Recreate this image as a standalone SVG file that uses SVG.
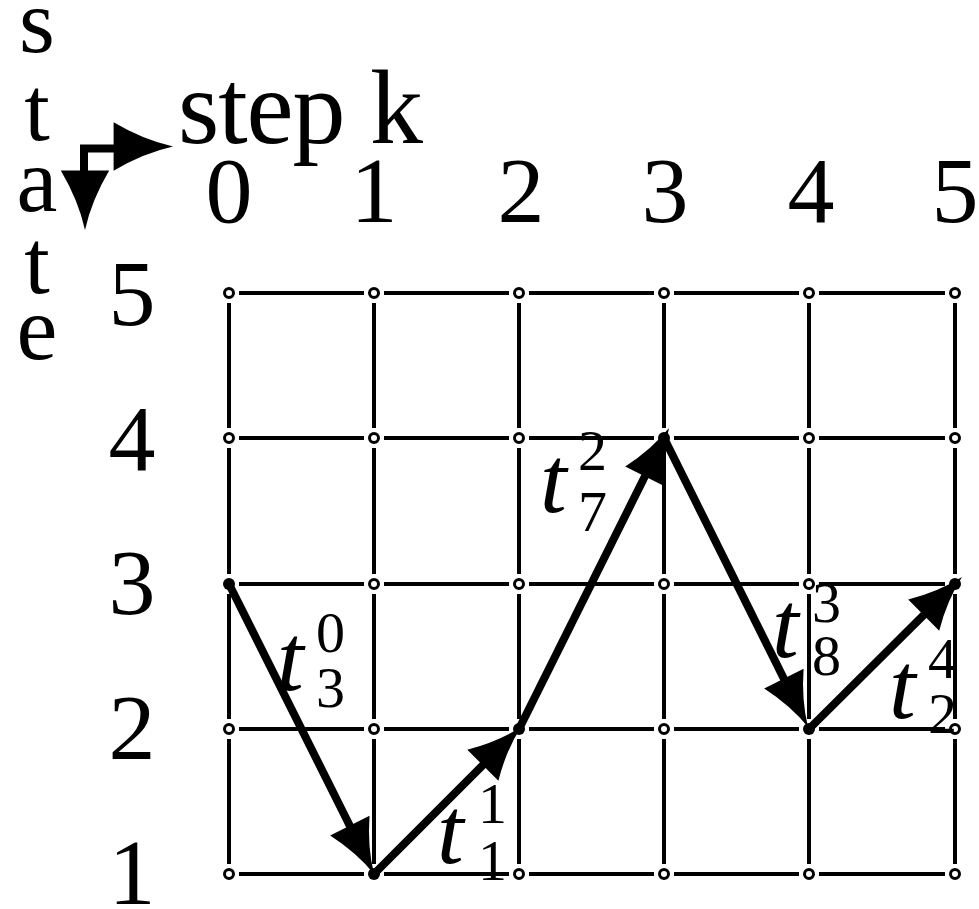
<svg xmlns="http://www.w3.org/2000/svg" xmlns:xlink="http://www.w3.org/1999/xlink" width="979" height="909" viewBox="0 0 979 909">
<style>
.grid{fill:none;stroke:#000;stroke-width:4}
.open{fill:#fff;stroke:#000;stroke-width:3}
.dot{fill:#000}
.arr{fill:none;stroke:#000;stroke-width:8}
.num{font-family:"Liberation Serif",serif;font-size:94px;fill:#000;text-anchor:middle}
.ax{font-family:"Liberation Serif",serif;font-size:92px;fill:#000;text-anchor:middle}
.ti{font-family:"Liberation Serif",serif;font-style:italic;font-size:96px;fill:#000}
.sc{font-family:"Liberation Serif",serif;font-size:58px;fill:#000}
</style>
<defs>
<path id="head" d="M0,0 Q-27,-6 -54,-22 L-54,22 Q-27,6 0,0 Z" fill="#000"/>
</defs>
<rect width="979" height="909" fill="#fff"/>

<g id="axis-labels">
<text class="ax" x="37" y="52">s</text>
<text class="ax" x="37" y="140">t</text>
<text class="ax" x="37" y="211">a</text>
<text class="ax" x="37" y="293">t</text>
<text class="ax" x="37" y="359">e</text>
<text x="178" y="143" font-family="Liberation Serif,serif" font-size="106" textLength="245" lengthAdjust="spacing">step k</text>
<path class="arr" d="M84,172 V148.5 H116"/>
<use xlink:href="#head" transform="translate(173,146.5) scale(1.1)"/>
<use xlink:href="#head" transform="translate(85,230) rotate(90) scale(1.1)"/>
</g>

<g id="step-numbers">
<text class="num" x="229" y="222">0</text>
<text class="num" x="374" y="222">1</text>
<text class="num" x="521" y="222">2</text>
<text class="num" x="665" y="222">3</text>
<text class="num" x="811" y="222">4</text>
<text class="num" x="955" y="222">5</text>
</g>
<g id="state-numbers">
<text class="num" x="132" y="325">5</text>
<text class="num" x="132" y="470">4</text>
<text class="num" x="132" y="614">3</text>
<text class="num" x="132" y="759">2</text>
<text class="num" x="132" y="904">1</text>
</g>

<g id="grid">
<path class="grid" d="M239 293H364M384 293H509M529 293H654M674 293H799M819 293H945
M239 438H364M384 438H509M529 438H654M674 438H799M819 438H945
M239 584H364M384 584H509M529 584H654M674 584H799M819 584H945
M239 729H364M384 729H509M529 729H654M674 729H799M819 729H945
M239 874H364M384 874H509M529 874H654M674 874H799M819 874H945
M229 303V428M229 448V574M229 594V719M229 739V864
M374 303V428M374 448V574M374 594V719M374 739V864
M519 303V428M519 448V574M519 594V719M519 739V864
M664 303V428M664 448V574M664 594V719M664 739V864
M809 303V428M809 448V574M809 594V719M809 739V864
M955 303V428M955 448V574M955 594V719M955 739V864"/>
</g>

<g id="nodes">
<circle class="open" cx="229" cy="293" r="4.5"/><circle class="open" cx="374" cy="293" r="4.5"/><circle class="open" cx="519" cy="293" r="4.5"/><circle class="open" cx="664" cy="293" r="4.5"/><circle class="open" cx="809" cy="293" r="4.5"/><circle class="open" cx="955" cy="293" r="4.5"/>
<circle class="open" cx="229" cy="438" r="4.5"/><circle class="open" cx="374" cy="438" r="4.5"/><circle class="open" cx="519" cy="438" r="4.5"/><circle class="dot" cx="664" cy="438" r="6"/><circle class="open" cx="809" cy="438" r="4.5"/><circle class="open" cx="955" cy="438" r="4.5"/>
<circle class="dot" cx="229" cy="584" r="6"/><circle class="open" cx="374" cy="584" r="4.5"/><circle class="open" cx="519" cy="584" r="4.5"/><circle class="open" cx="664" cy="584" r="4.5"/><circle class="open" cx="809" cy="584" r="4.5"/><circle class="dot" cx="955" cy="584" r="6"/>
<circle class="open" cx="229" cy="729" r="4.5"/><circle class="open" cx="374" cy="729" r="4.5"/><circle class="dot" cx="519" cy="729" r="6"/><circle class="open" cx="664" cy="729" r="4.5"/><circle class="dot" cx="809" cy="729" r="6"/><circle class="open" cx="955" cy="729" r="4.5"/>
<circle class="open" cx="229" cy="874" r="4.5"/><circle class="dot" cx="374" cy="874" r="6"/><circle class="open" cx="519" cy="874" r="4.5"/><circle class="open" cx="664" cy="874" r="4.5"/><circle class="open" cx="809" cy="874" r="4.5"/><circle class="open" cx="955" cy="874" r="4.5"/>
</g>

<g id="connectors">
<path class="arr" d="M229,584 L358.3,842.7"/>
<use xlink:href="#head" transform="translate(374,874) rotate(63.43)"/>
<path class="arr" d="M374,874 L496.3,751.7"/>
<use xlink:href="#head" transform="translate(521,727) rotate(-45)"/>
<path class="arr" d="M519,729 L653.4,459.3"/>
<use xlink:href="#head" transform="translate(669,428) rotate(-63.51)"/>
<path class="arr" d="M664,438 L792.4,695.7"/>
<use xlink:href="#head" transform="translate(808,727) rotate(63.51)"/>
<path class="arr" d="M809,729 L937.2,601.7"/>
<use xlink:href="#head" transform="translate(962,577) rotate(-44.81)"/>
</g>

<g id="labels">
<text class="ti" x="277" y="690">t</text><text class="sc" x="316" y="652">0</text><text class="sc" x="316" y="707">3</text>
<text class="ti" x="437" y="863">t</text><text class="sc" x="478" y="823">1</text><text class="sc" x="478" y="880">1</text>
<text class="ti" x="540" y="512">t</text><text class="sc" x="578" y="470">2</text><text class="sc" x="578" y="531">7</text>
<text class="ti" x="772" y="657">t</text><text class="sc" x="812" y="622">3</text><text class="sc" x="812" y="675">8</text>
<text class="ti" x="889" y="718">t</text><text class="sc" x="928" y="678">4</text><text class="sc" x="928" y="733">2</text>
</g>
</svg>
